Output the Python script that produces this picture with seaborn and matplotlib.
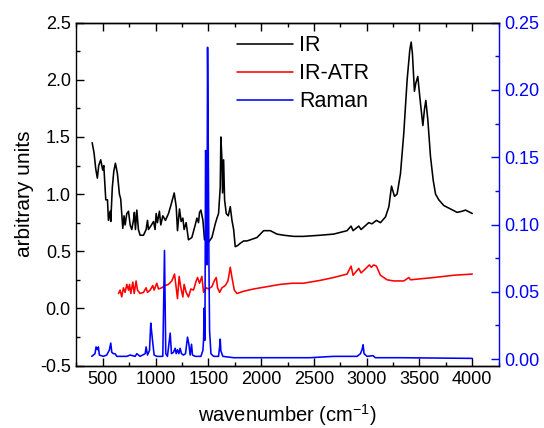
import numpy as np
import pandas as pd
import matplotlib
matplotlib.use("Agg")
import matplotlib.pyplot as plt
from matplotlib.ticker import MultipleLocator
import seaborn as sns

# ---------------- data ----------------
ir_wn = [400, 418, 434, 449, 462, 481, 500, 510, 529, 545, 554, 570, 576, 591, 605, 620, 639, 658, 670, 680,
         690, 702, 712, 728, 744, 760, 775, 791, 800, 810, 823, 838, 854, 886, 911, 924, 933, 955, 981, 996,
         1006, 1018, 1037, 1050, 1069, 1094, 1123, 1145, 1177, 1196, 1208, 1227, 1243, 1259, 1271, 1290, 1312,
         1344, 1376, 1392, 1407, 1417, 1430, 1449, 1464, 1480, 1502, 1534, 1566, 1582, 1597, 1613, 1619, 1629,
         1635, 1645, 1654, 1670, 1689, 1708, 1724, 1740, 1755, 1778, 1803, 1835, 1866, 1898, 1930, 1961, 1992,
         2024, 2087, 2150, 2214, 2309, 2400, 2560, 2687, 2814, 2852, 2871, 2925, 2947, 3019, 3050, 3092, 3130,
         3178, 3210, 3235, 3263, 3288, 3320, 3351, 3383, 3408, 3421, 3433, 3452, 3465, 3484, 3503, 3532, 3547,
         3560, 3579, 3604, 3630, 3652, 3683, 3730, 3794, 3857, 3904, 3936, 3968, 4000]
ir_val = [1.45, 1.36, 1.22, 1.14, 1.25, 1.30, 1.21, 1.25, 0.95, 0.95, 0.77, 0.85, 0.76, 1.06, 1.20, 1.27, 1.18,
          1.00, 0.96, 0.83, 0.70, 0.81, 0.73, 0.83, 0.85, 0.73, 0.69, 0.77, 0.84, 0.69, 0.86, 0.69, 0.64, 0.64,
          0.69, 0.77, 0.69, 0.72, 0.76, 0.69, 0.83, 0.75, 0.85, 0.73, 0.81, 0.77, 0.83, 0.90, 1.01, 0.89, 0.68,
          0.87, 0.76, 0.79, 0.69, 0.75, 0.60, 0.62, 0.73, 0.79, 0.75, 0.84, 0.86, 0.77, 0.60, 0.64, 0.58, 0.62,
          0.74, 0.79, 0.83, 1.06, 1.50, 1.30, 1.01, 1.30, 0.95, 0.83, 0.81, 0.89, 0.77, 0.69, 0.54, 0.55, 0.57,
          0.59, 0.59, 0.60, 0.61, 0.62, 0.65, 0.68, 0.68, 0.65, 0.64, 0.63, 0.63, 0.64, 0.65, 0.68, 0.72, 0.68,
          0.72, 0.69, 0.75, 0.74, 0.77, 0.75, 0.80, 0.89, 1.07, 0.98, 1.00, 1.18, 1.53, 2.00, 2.26, 2.33, 2.23,
          1.90, 1.97, 2.03, 1.85, 1.60, 1.74, 1.82, 1.65, 1.33, 1.12, 1.00, 0.95, 0.90, 0.87, 0.84, 0.85, 0.86,
          0.845, 0.83]

atr_wn = [649, 665, 680, 696, 712, 728, 744, 754, 766, 785, 798, 816, 829, 854, 886, 911, 924, 949, 974, 987,
          1012, 1028, 1059, 1091, 1123, 1154, 1180, 1196, 1208, 1224, 1240, 1259, 1271, 1290, 1312, 1335, 1360,
          1385, 1398, 1417, 1439, 1455, 1480, 1502, 1534, 1556, 1575, 1588, 1607, 1629, 1661, 1686, 1708, 1724,
          1746, 1771, 1835, 1930, 2056, 2182, 2300, 2400, 2560, 2687, 2814, 2852, 2871, 2925, 2947, 3003, 3025,
          3044, 3066, 3092, 3130, 3193, 3256, 3351, 3399, 3415, 3636, 3826, 4000]
atr_val = [0.13, 0.16, 0.10, 0.18, 0.14, 0.21, 0.16, 0.21, 0.13, 0.23, 0.13, 0.24, 0.16, 0.13, 0.14, 0.18, 0.14,
           0.16, 0.20, 0.16, 0.22, 0.17, 0.18, 0.20, 0.21, 0.24, 0.30, 0.18, 0.085, 0.28, 0.18, 0.10, 0.21, 0.14,
           0.10, 0.17, 0.16, 0.24, 0.27, 0.22, 0.28, 0.14, 0.18, 0.17, 0.19, 0.24, 0.27, 0.18, 0.14, 0.18, 0.20,
           0.24, 0.36, 0.27, 0.16, 0.13, 0.15, 0.17, 0.19, 0.21, 0.22, 0.22, 0.245, 0.27, 0.30, 0.37, 0.29, 0.35,
           0.31, 0.36, 0.38, 0.36, 0.38, 0.37, 0.29, 0.25, 0.24, 0.24, 0.27, 0.25, 0.27, 0.29, 0.30]

raman_wn = [396, 427, 437, 449, 459, 468, 506, 538, 563, 576, 586, 601, 617, 633, 728, 760, 807, 823, 854, 902,
            911, 924, 943, 955, 965, 974, 987, 1012, 1069, 1085, 1097, 1113, 1139, 1151, 1170, 1186, 1196, 1208,
            1221, 1233, 1246, 1265, 1284, 1303, 1316, 1328, 1341, 1350, 1376, 1430, 1449, 1455, 1461, 1468, 1474,
            1480, 1487, 1493, 1499, 1506, 1512, 1525, 1550, 1597, 1607, 1613, 1619, 1638, 1740, 2466, 2687, 2909,
            2941, 2956, 2966, 2975, 3003, 3060, 3082, 3320, 4000]
raman_val = [0.002, 0.004, 0.009, 0.007, 0.009, 0.003, 0.002, 0.003, 0.0067, 0.0119, 0.005, 0.004, 0.004,
             0.002, 0.002, 0.003, 0.002, 0.004, 0.002, 0.004, 0.009, 0.003, 0.0064, 0.0267, 0.019, 0.012, 0.003,
             0.002, 0.002, 0.0807, 0.004, 0.002, 0.0193, 0.004, 0.005, 0.008, 0.004, 0.007, 0.004, 0.008, 0.004,
             0.003, 0.004, 0.0163, 0.011, 0.003, 0.011, 0.003, 0.002, 0.002, 0.0065, 0.014, 0.0379, 0.014, 0.155,
             0.150, 0.070, 0.2317, 0.165, 0.071, 0.021, 0.004, 0.002, 0.002, 0.009, 0.0148, 0.006, 0.002, 0.001,
             0.001, 0.002, 0.002, 0.004, 0.007, 0.0106, 0.004, 0.002, 0.0025, 0.001, 0.001, 0.0005]

series_names = ["IR", "IR-ATR", "Raman"]
series_colors = ["black", "#ff0000", "#0000ff"]

# ---------------- plot ----------------
sns.set_style("ticks")
plt.rcParams["font.family"] = ["Liberation Sans", "DejaVu Sans"]
plt.rcParams["mathtext.fontset"] = "custom"
plt.rcParams["mathtext.rm"] = "Liberation Sans"
plt.rcParams["text.color"] = "black"
plt.rcParams["axes.labelcolor"] = "black"
plt.rcParams["xtick.color"] = "black"
plt.rcParams["ytick.color"] = "black"

fig = plt.figure(figsize=(5.44, 4.28), dpi=100)
ax = fig.add_axes([0.1403, 0.146, 0.9167 - 0.1403, 0.947 - 0.146])
ax2 = ax.twinx()

df_ir = pd.DataFrame({"wn": ir_wn, "v": ir_val})
df_atr = pd.DataFrame({"wn": atr_wn, "v": atr_val})
df_ram = pd.DataFrame({"wn": raman_wn, "v": raman_val})

lw = 1.15
sns.lineplot(data=df_ir, x="wn", y="v", ax=ax, color=series_colors[0], lw=lw, label=series_names[0], sort=False)
sns.lineplot(data=df_atr, x="wn", y="v", ax=ax, color=series_colors[1], lw=lw, label=series_names[1], sort=False)
sns.lineplot(data=df_ram, x="wn", y="v", ax=ax2, color=series_colors[2], lw=lw, label=series_names[2], sort=False)

h1, l1 = ax.get_legend_handles_labels()
h2, l2 = ax2.get_legend_handles_labels()
if ax.get_legend():
    ax.get_legend().remove()
if ax2.get_legend():
    ax2.get_legend().remove()

ax.set_xlim(250, 4250)
ax.set_ylim(-0.5, 2.5)
ax2.set_ylim(-0.0048, 0.25)

ax.xaxis.set_major_locator(MultipleLocator(500))
ax.xaxis.set_minor_locator(MultipleLocator(250))
ax.yaxis.set_major_locator(MultipleLocator(0.5))
ax.yaxis.set_minor_locator(MultipleLocator(0.25))
ax2.yaxis.set_major_locator(MultipleLocator(0.05))
ax2.yaxis.set_minor_locator(MultipleLocator(0.025))
ax.set_xticks([500, 1000, 1500, 2000, 2500, 3000, 3500, 4000])

fs = 13
ax.tick_params(axis="both", which="major", direction="in", length=5.5, width=1, labelsize=fs,
               top=True, right=False, colors="black", pad=4)
ax.tick_params(axis="both", which="minor", direction="in", length=3, width=1, top=True, right=False,
               colors="black")
ax2.tick_params(axis="y", which="major", direction="in", length=5.5, width=1, labelsize=fs,
                colors="#0000ff", pad=4)
ax2.tick_params(axis="y", which="minor", direction="in", length=3, width=1, colors="#0000ff")

ax.yaxis.set_major_formatter(matplotlib.ticker.FormatStrFormatter("%.1f"))
ax2.yaxis.set_major_formatter(matplotlib.ticker.FormatStrFormatter("%.2f"))

for a in (ax, ax2):
    for s in a.spines.values():
        s.set_linewidth(1.0)
        s.set_color("black")
ax.spines["right"].set_visible(False)
ax2.spines["right"].set_color("#0000ff")
ax2.spines["left"].set_visible(False)

ax.set_xlabel("wavenumber (cm$^{-1}$)", fontsize=14.5, labelpad=10, color="black")
ax.set_ylabel("arbitrary units", fontsize=15, labelpad=4, color="black")
ax2.set_ylabel("")

leg = ax.legend(h1 + h2, l1 + l2, loc="upper left", bbox_to_anchor=(0.38, 0.963), frameon=False,
                fontsize=15.5, handlelength=2.6, handletextpad=0.3, labelspacing=0.32, borderpad=0,
                borderaxespad=0)
for t in leg.get_texts():
    t.set_color("black")

fig.savefig("out.png", dpi=100)
